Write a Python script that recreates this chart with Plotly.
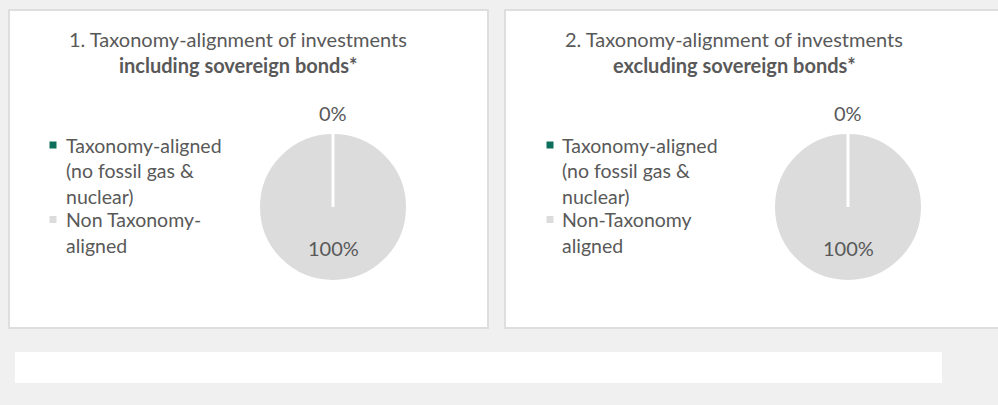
import plotly.graph_objects as go

W, H = 998, 405

# ---- data ----
title_line1 = ["1. Taxonomy-alignment of investments", "2. Taxonomy-alignment of investments"]
title_line2 = ["including sovereign bonds*", "excluding sovereign bonds*"]
slice_names = ["Taxonomy-aligned (no fossil gas & nuclear)", "Non Taxonomy-aligned"]
slice_names2 = ["Taxonomy-aligned (no fossil gas & nuclear)", "Non-Taxonomy aligned"]
legend_text_1 = [["Taxonomy-aligned", "(no fossil gas &", "nuclear)"], ["Non Taxonomy-", "aligned"]]
legend_text_2 = [["Taxonomy-aligned", "(no fossil gas &", "nuclear)"], ["Non-Taxonomy", "aligned"]]
aligned_pct = [0, 0]
non_aligned_pct = [100, 100]
slice_colors = ["#0d6e5b", "#dcdcdc"]

TXT = "#595959"
FONT = "Lato"
FS = 20
FS_LEG = 19.5

def px_x(x):
    return x / W

def px_y(y):
    return 1 - y / H

fig = go.Figure()

panels = [(9, 10, 488, 328), (505, 10, 999, 328)]
pie_centers = [(333, 207), (848, 207)]
R = 74
title_cx = [238, 734]
legend_x = [(53, 65), (550, 561)]
legend_texts = [legend_text_1, legend_text_2]
names = [slice_names, slice_names2]

shapes = []
annotations = []

# background panels
for (x0, y0, x1, y1) in panels:
    shapes.append(dict(type="rect", xref="paper", yref="paper",
                       x0=px_x(x0), x1=px_x(x1), y0=px_y(y1), y1=px_y(y0),
                       fillcolor="white", line=dict(color="#dedede", width=2), layer="below"))
# footnote strip
shapes.append(dict(type="rect", xref="paper", yref="paper",
                   x0=px_x(15), x1=px_x(942), y0=px_y(383), y1=px_y(352),
                   fillcolor="white", line=dict(width=0), layer="below"))

for i in range(2):
    cx, cy = pie_centers[i]
    vals = [aligned_pct[i], non_aligned_pct[i]]
    fig.add_trace(go.Pie(
        labels=names[i], values=vals, sort=False, direction="clockwise", rotation=0,
        marker=dict(colors=slice_colors, line=dict(color="white", width=2)),
        textinfo="none", hoverinfo="label+percent", showlegend=False,
        domain=dict(x=[px_x(cx - R), px_x(cx + R)], y=[px_y(cy + R), px_y(cy - R)]),
    ))
    # slice boundary at 12 o'clock (start of the zero slice)
    shapes.append(dict(type="line", xref="paper", yref="paper",
                       x0=px_x(cx), x1=px_x(cx), y0=px_y(cy), y1=px_y(cy - R - 1),
                       line=dict(color="white", width=3)))
    # data labels
    annotations.append(dict(x=px_x(cx), y=px_y(cy - R - 20), xref="paper", yref="paper",
                            text=f"{vals[0]}%", showarrow=False, xanchor="center", yanchor="middle",
                            font=dict(family=FONT, size=FS, color=TXT)))
    annotations.append(dict(x=px_x(cx), y=px_y(cy + 41), xref="paper", yref="paper",
                            text=f"{vals[1]}%", showarrow=False, xanchor="center", yanchor="middle",
                            font=dict(family=FONT, size=FS, color=TXT)))
    # titles
    annotations.append(dict(x=px_x(title_cx[i]), y=px_y(39), xref="paper", yref="paper",
                            text=title_line1[i], showarrow=False, xanchor="center", yanchor="middle",
                            font=dict(family=FONT, size=FS, color=TXT)))
    annotations.append(dict(x=px_x(title_cx[i]), y=px_y(65), xref="paper", yref="paper",
                            text=f"<b>{title_line2[i]}</b>", showarrow=False, xanchor="center", yanchor="middle",
                            font=dict(family=FONT, size=FS, color=TXT)))
    # legend
    mx, tx = legend_x[i]
    y = 145
    for k, lines in enumerate(legend_texts[i]):
        shapes.append(dict(type="rect", xref="paper", yref="paper",
                           x0=px_x(mx - 3.5), x1=px_x(mx + 3.5), y0=px_y(y + 3.5), y1=px_y(y - 3.5),
                           fillcolor=slice_colors[k], line=dict(width=0)))
        for j, line in enumerate(lines):
            annotations.append(dict(x=px_x(tx), y=px_y(y), xref="paper", yref="paper",
                                    text=line, showarrow=False, xanchor="left", yanchor="middle",
                                    borderpad=0,
                                    font=dict(family=FONT, size=FS_LEG, color=TXT)))
            y += 25.5
        y -= 2

fig.update_layout(
    width=W, height=H, margin=dict(l=0, r=0, t=0, b=0),
    paper_bgcolor="#f0f0f0", plot_bgcolor="#f0f0f0",
    shapes=shapes, annotations=annotations, showlegend=False,
)

fig.write_html(
    "out.html",
    config={"displayModeBar": False},
    post_script="document.body.style.margin='0';document.body.style.background='#f0f0f0';",
)
